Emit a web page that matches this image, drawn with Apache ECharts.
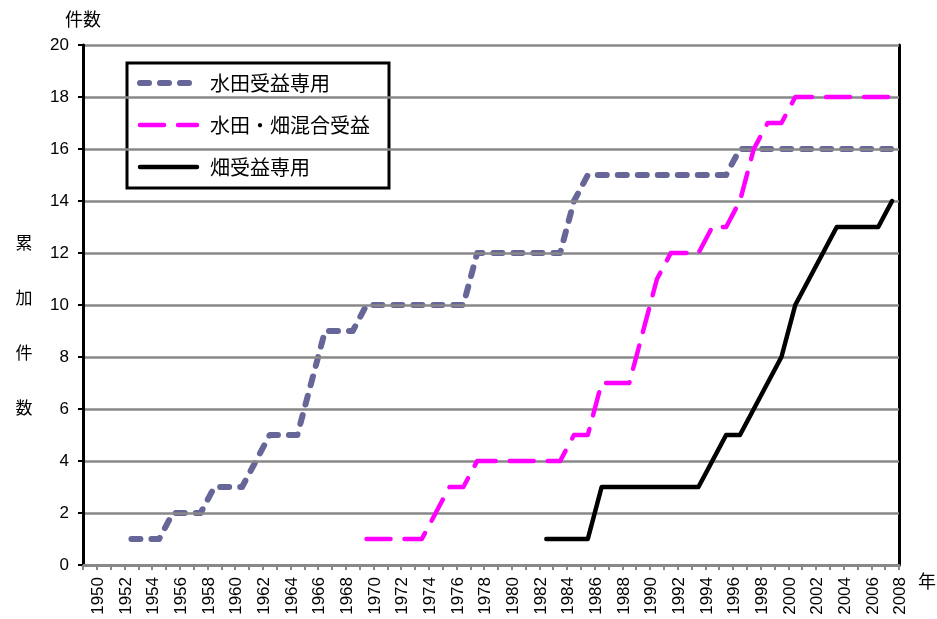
<!DOCTYPE html>
<html>
<head>
<meta charset="utf-8">
<script src="https://cdn.jsdelivr.net/npm/echarts@6/dist/echarts.min.js"></script>
<style>
  html, body { margin: 0; padding: 0; background: #fff; }
  #chart { width: 937px; height: 619px; }
</style>
</head>
<body>
<div id="chart"></div>
<script>
// Years on the category axis
const years = [
  '1950','1951','1952','1953','1954','1955','1956','1957','1958','1959',
  '1960','1961','1962','1963','1964','1965','1966','1967','1968','1969',
  '1970','1971','1972','1973','1974','1975','1976','1977','1978','1979',
  '1980','1981','1982','1983','1984','1985','1986','1987','1988','1989',
  '1990','1991','1992','1993','1994','1995','1996','1997','1998','1999',
  '2000','2001','2002','2003','2004','2005','2006','2007','2008'
];

// Cumulative counts per year (null = no record yet)
const paddyOnly = [
  null, null, null, 1, 1, 1, 2, 2, 2, 3,
  3, 3, 4, 5, 5, 5, 7, 9, 9, 9,
  10, 10, 10, 10, 10, 10, 10, 10, 12, 12,
  12, 12, 12, 12, 12, 14, 15, 15, 15, 15,
  15, 15, 15, 15, 15, 15, 15, 16, 16, 16,
  16, 16, 16, 16, 16, 16, 16, 16, 16
];
const mixedUse = [
  null, null, null, null, null, null, null, null, null, null,
  null, null, null, null, null, null, null, null, null, null,
  1, 1, 1, 1, 1, 2, 3, 3, 4, 4,
  4, 4, 4, 4, 4, 5, 5, 7, 7, 7,
  9, 11, 12, 12, 12, 13, 13, 14, 16, 17,
  17, 18, 18, 18, 18, 18, 18, 18, 18
];
const uplandOnly = [
  null, null, null, null, null, null, null, null, null, null,
  null, null, null, null, null, null, null, null, null, null,
  null, null, null, null, null, null, null, null, null, null,
  null, null, null, 1, 1, 1, 1, 3, 3, 3,
  3, 3, 3, 3, 3, 4, 5, 5, 6, 7,
  8, 10, 11, 12, 13, 13, 13, 13, 14
];

const seriesNames = ['水田受益専用', '水田・畑混合受益', '畑受益専用'];
const seriesValues = [paddyOnly, mixedUse, uplandOnly];

const latinFont = "'Liberation Sans', Arial, sans-serif";
const cjkFont = "'Noto Sans CJK JP', 'Noto Sans CJK SC', sans-serif";

const lineStyles = [
  { color: '#666699', width: 6, type: [9, 11], cap: 'round', join: 'round' },
  { color: '#ff00ff', width: 4.5, type: [24, 14], cap: 'round', join: 'round' },
  { color: '#000000', width: 4.5, type: 'solid', cap: 'round', join: 'round' }
];

const chart = echarts.init(document.getElementById('chart'), null, { renderer: 'canvas' });

// Frame lines on the top and right sides of the plot
const frameAxis = {
  axisLine: { show: true, lineStyle: { color: '#000', width: 3 } },
  axisTick: { show: false },
  axisLabel: { show: false },
  splitLine: { show: false }
};

const option = {
  animation: false,
  backgroundColor: '#fff',
  textStyle: { fontFamily: latinFont },
  grid: { left: 83, right: 38, top: 45, bottom: 54 },
  legend: {
    orient: 'vertical',
    left: 127, top: 63,
    padding: [10, 19, 11, 10],
    itemGap: 22,
    itemWidth: 57,
    itemHeight: 14,
    borderColor: '#000',
    borderWidth: 3,
    backgroundColor: '#fff',
    selectedMode: false,
    textStyle: { fontSize: 20, fontFamily: cjkFont, color: '#000', lineHeight: 20, padding: [0, 0, 0, 8] },
    data: seriesNames.map((name, i) => ({
      name: name,
      itemStyle: { opacity: 0 },
      lineStyle: lineStyles[i]
    }))
  },
  xAxis: [{
    type: 'category',
    data: years,
    boundaryGap: true,
    axisLine: { lineStyle: { color: '#888', width: 3 } },
    axisTick: { show: true, interval: 0, length: 5, lineStyle: { color: '#888', width: 2 } },
    axisLabel: {
      interval: 1, rotate: 90, margin: 12,
      fontSize: 17, color: '#000', fontFamily: latinFont,
      verticalAlign: 'top'
    },
    splitLine: { show: false },
    z: 4
  }, Object.assign({ type: 'category', data: years, position: 'top' }, frameAxis)],
  yAxis: [{
    type: 'value',
    min: 0, max: 20, interval: 2,
    axisLine: { show: true, lineStyle: { color: '#000', width: 3 } },
    axisTick: { show: true, length: 5, lineStyle: { color: '#000', width: 2 } },
    axisLabel: { fontSize: 17, color: '#000', margin: 14, fontFamily: latinFont },
    splitLine: { show: true, lineStyle: { color: '#888', width: 2.5 } },
    name: '件数',
    nameLocation: 'end',
    nameGap: 17,
    nameTextStyle: { fontSize: 18, fontFamily: cjkFont, color: '#000', align: 'center' },
    z: 4
  }, Object.assign({ type: 'value', min: 0, max: 20, interval: 2, position: 'right' }, frameAxis)],
  graphic: [{
    type: 'text',
    x: 24, y: 325,
    style: {
      text: '累\n加\n件\n数',
      font: '17px ' + cjkFont,
      fill: '#000',
      textAlign: 'center',
      textVerticalAlign: 'middle',
      lineHeight: 54.7
    }
  }, {
    type: 'text',
    x: 927, y: 581,
    style: {
      text: '年',
      font: '18px ' + cjkFont,
      fill: '#000',
      textAlign: 'center',
      textVerticalAlign: 'middle'
    }
  }],
  series: seriesNames.map((name, i) => ({
    name: name,
    type: 'line',
    data: seriesValues[i],
    symbol: 'none',
    connectNulls: false,
    itemStyle: { color: lineStyles[i].color },
    lineStyle: lineStyles[i],
    z: 3 + i
  }))
};

chart.setOption(option);
</script>
</body>
</html>
